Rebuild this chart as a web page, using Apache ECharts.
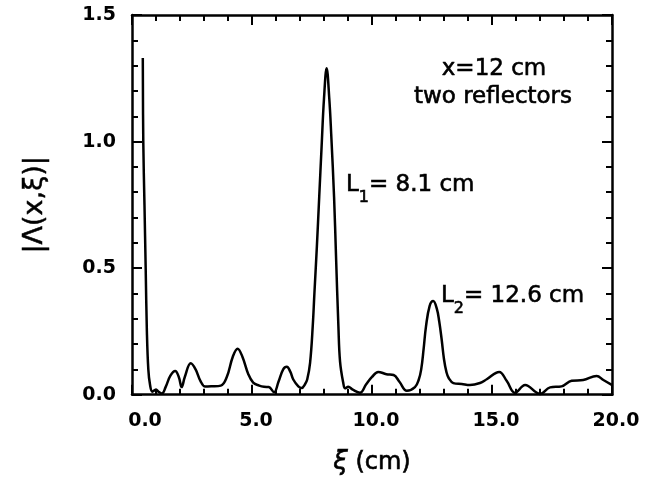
<!DOCTYPE html>
<html>
<head>
<meta charset="utf-8">
<script src="https://cdn.jsdelivr.net/npm/echarts@6/dist/echarts.min.js"></script>
<style>
    html, body { margin: 0; padding: 0; background: #fff; }
    #chart { width: 654px; height: 481px; }
</style>
</head>
<body>
<div id="chart"></div>
<script>
// 曲线数据
const xiValues = [0.45, 0.47, 0.52, 0.57, 0.62, 0.68, 0.75, 0.85, 1.0, 1.1, 1.25, 1.4, 1.6, 1.8, 1.95, 2.07, 2.2, 2.45, 2.65, 2.85,
    3.05, 3.3, 3.7, 3.95, 4.2, 4.4, 4.6, 4.85, 5.05, 5.3, 5.5, 5.7, 5.92, 6.1, 6.3, 6.45, 6.6, 6.72, 6.93, 7.07,
    7.2, 7.3, 7.42, 7.53, 7.6, 7.7, 7.8, 7.9, 8.0, 8.11, 8.22, 8.3, 8.42, 8.5, 8.6, 8.67, 8.8, 8.88, 9.01, 9.2,
    9.5, 9.75, 10.0, 10.26, 10.6, 10.9, 11.15, 11.45, 11.79, 11.95, 12.05, 12.15, 12.25, 12.4, 12.55, 12.7, 12.8, 12.9, 13.0, 13.1,
    13.2, 13.39, 13.74, 14.08, 14.5, 14.78, 15.3, 15.61, 15.96, 16.38, 17.0, 17.42, 17.9, 18.32, 18.8, 19.36, 19.64, 19.99];
const amplitude = [1.33, 1.0, 0.75, 0.5, 0.25, 0.1, 0.04, 0.012, 0.02, 0.012, 0.005, 0.03, 0.075, 0.094, 0.07, 0.03, 0.07, 0.124, 0.1, 0.055,
    0.032, 0.033, 0.036, 0.07, 0.15, 0.182, 0.15, 0.08, 0.048, 0.036, 0.031, 0.03, 0.01, 0.05, 0.1, 0.11, 0.09, 0.06, 0.033, 0.026,
    0.04, 0.06, 0.126, 0.27, 0.4, 0.58, 0.78, 0.98, 1.17, 1.29, 1.17, 1.03, 0.78, 0.55, 0.27, 0.13, 0.048, 0.025, 0.031, 0.02,
    0.008, 0.04, 0.07, 0.09, 0.081, 0.078, 0.05, 0.016, 0.03, 0.06, 0.1, 0.18, 0.27, 0.35, 0.37, 0.34, 0.29, 0.22, 0.14, 0.09,
    0.065, 0.046, 0.042, 0.038, 0.046, 0.061, 0.09, 0.055, 0.007, 0.038, 0.003, 0.029, 0.033, 0.055, 0.058, 0.074, 0.058, 0.039];

const xTicks = [0, 5, 10, 15, 20];
const yTicks = [0, 0.5, 1.0, 1.5];

const FONT = 'DejaVu Sans';

const chart = echarts.init(document.getElementById('chart'));

const lineData = xiValues.map((x, i) => [x, amplitude[i]]);

// 公共坐标轴样式：四边框、刻度朝内
function axisBase(extra) {
    return Object.assign({
        type: 'value',
        axisLine: { show: true, onZero: false, lineStyle: { color: '#000', width: 2.5 } },
        axisTick: { show: true, inside: true, length: 10, lineStyle: { color: '#000', width: 2 } },
        minorTick: { show: true, splitNumber: 5, length: 6, lineStyle: { color: '#000', width: 2 } },
        splitLine: { show: false }
    }, extra);
}

// 注释文字稍加描边，接近原图的粗细
const textStyle = { fontFamily: FONT, fontSize: 23, fill: '#000', stroke: '#000', lineWidth: 0.6 };
const labelStyle = { fontFamily: FONT, fontWeight: 'bold', fontSize: 19, color: '#000' };

const option = {
    animation: false,
    backgroundColor: '#fff',
    grid: { left: 132, top: 15, width: 480, height: 384, containLabel: false },
    xAxis: [
        axisBase({
            position: 'bottom',
            min: xTicks[0], max: xTicks[xTicks.length - 1], interval: 5,
            name: '{i|ξ} (cm)',
            nameLocation: 'middle',
            nameGap: 55,
            nameTextStyle: {
                fontFamily: FONT, fontSize: 24, color: '#000', textBorderColor: '#000', textBorderWidth: 0.6,
                rich: { i: { fontFamily: FONT, fontSize: 26, fontStyle: 'italic', color: '#000', textBorderColor: '#000', textBorderWidth: 0.6 } }
            },
            axisLabel: {
                margin: 17,
                formatter: v => v === 0 ? '{first|' + v.toFixed(1) + '}' : '{n|' + v.toFixed(1) + '}',
                rich: {
                    first: Object.assign({ padding: [0, 0, 0, 26] }, labelStyle),
                    n: Object.assign({ padding: [0, 0, 0, 8] }, labelStyle)
                }
            }
        }),
        axisBase({
            position: 'top',
            min: xTicks[0], max: xTicks[xTicks.length - 1], interval: 5,
            axisLabel: { show: false }
        })
    ],
    yAxis: [
        axisBase({
            position: 'left',
            min: yTicks[0], max: yTicks[yTicks.length - 1], interval: 0.5,
            name: '|Λ(x,ξ)|',
            nameLocation: 'middle',
            nameGap: 84,
            nameTextStyle: { fontFamily: FONT, fontSize: 27, color: '#000', textBorderColor: '#000', textBorderWidth: 0.5 },
            axisLabel: Object.assign({
                margin: 16,
                formatter: v => v.toFixed(1)
            }, labelStyle)
        }),
        axisBase({
            position: 'right',
            min: yTicks[0], max: yTicks[yTicks.length - 1], interval: 0.5,
            axisLabel: { show: false }
        })
    ],
    series: [
        {
            type: 'line',
            data: lineData,
            showSymbol: false,
            smooth: 0.4,
            lineStyle: { color: '#000', width: 2.5 },
            clip: true
        }
    ],
    graphic: [
        {
            type: 'text',
            style: Object.assign({ text: 'x=12 cm', x: 494, y: 69, align: 'center', verticalAlign: 'middle' }, textStyle)
        },
        {
            type: 'text',
            style: Object.assign({ text: 'two reflectors', x: 493, y: 97, align: 'center', verticalAlign: 'middle' }, textStyle)
        },
        {
            type: 'text',
            style: {
                x: 346, y: 206, verticalAlign: 'bottom',
                text: '{m|L}{s|1}{m|= 8.1 cm}',
                rich: {
                    m: Object.assign({ verticalAlign: 'bottom', padding: [0, 0, 9, 0] }, textStyle),
                    s: Object.assign({}, textStyle, { fontSize: 16, verticalAlign: 'bottom' })
                }
            }
        },
        {
            type: 'text',
            style: {
                x: 441, y: 317, verticalAlign: 'bottom',
                text: '{m|L}{s|2}{m|= 12.6 cm}',
                rich: {
                    m: Object.assign({ verticalAlign: 'bottom', padding: [0, 0, 9, 0] }, textStyle),
                    s: Object.assign({}, textStyle, { fontSize: 16, verticalAlign: 'bottom' })
                }
            }
        }
    ]
};

chart.setOption(option);
</script>
</body>
</html>
